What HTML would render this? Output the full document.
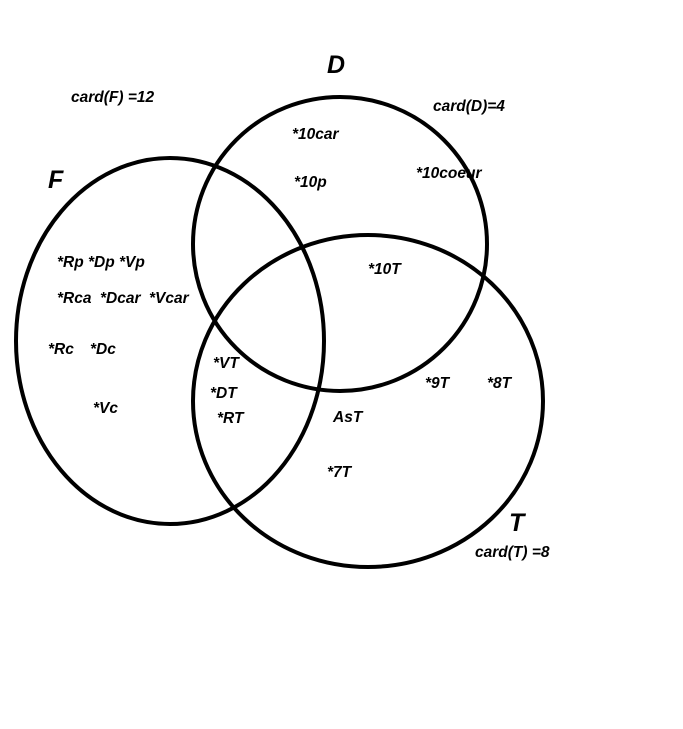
<!DOCTYPE html>
<html><head><style>
body{margin:0;background:#fff;}
svg text{font-family:"Liberation Sans",Arial,sans-serif;font-weight:bold;font-style:italic;fill:#000;}
</style></head><body>
<svg width="683" height="724" viewBox="0 0 683 724" xmlns="http://www.w3.org/2000/svg">
<rect width="683" height="724" fill="#fff"/>
<g fill="none" stroke="#000" stroke-width="4">
<ellipse cx="170" cy="341" rx="154" ry="183"/>
<ellipse cx="340" cy="244" rx="147" ry="147"/>
<ellipse cx="368" cy="401" rx="175" ry="166"/>
</g>
<g font-size="15.5">
<text x="71" y="102">card(F) =12</text>
<text x="433" y="111">card(D)=4</text>
<text x="475" y="557">card(T) =8</text>
<text x="292" y="139">*10car</text>
<text x="294" y="187">*10p</text>
<text x="416" y="178">*10coeur</text>
<text x="368" y="274">*10T</text>
<text x="57" y="267">*Rp *Dp *Vp</text>
<text x="57" y="303">*Rca</text>
<text x="100" y="303">*Dcar</text>
<text x="149" y="303">*Vcar</text>
<text x="48" y="354">*Rc</text>
<text x="90" y="354">*Dc</text>
<text x="93" y="413">*Vc</text>
<text x="213" y="368">*VT</text>
<text x="210" y="398">*DT</text>
<text x="217" y="423">*RT</text>
<text x="333" y="422">AsT</text>
<text x="425" y="388">*9T</text>
<text x="487" y="388">*8T</text>
<text x="327" y="477">*7T</text>
</g>
<g font-size="25">
<text x="48" y="188">F</text>
<text x="327" y="73">D</text>
<text x="509" y="531">T</text>
</g>
</svg>
</body></html>
